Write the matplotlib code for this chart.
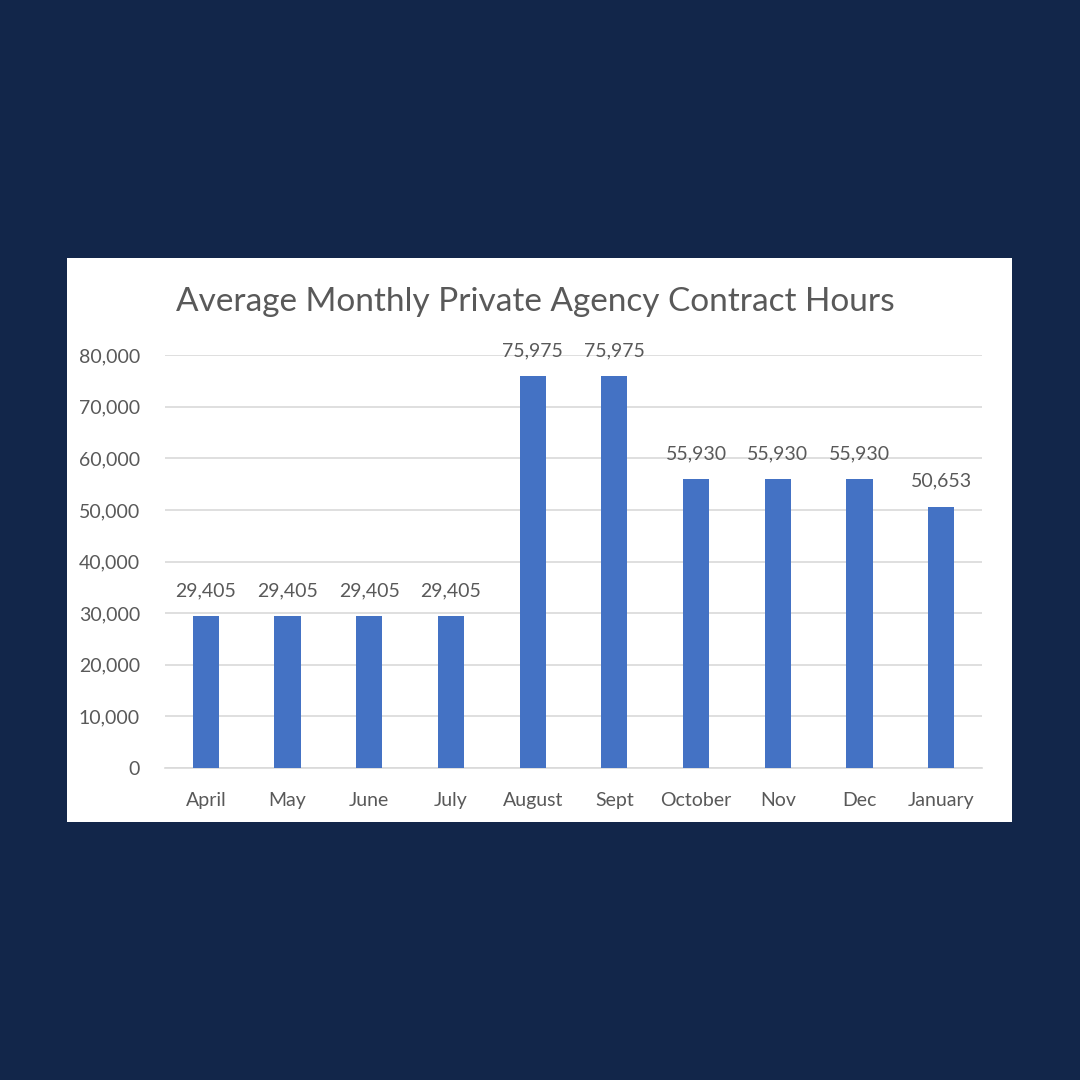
import matplotlib
matplotlib.use("Agg")
import matplotlib.pyplot as plt
from matplotlib.ticker import FuncFormatter

months = ["April", "May", "June", "July", "August", "Sept", "October", "Nov", "Dec", "January"]
hours = [29405, 29405, 29405, 29405, 75975, 75975, 55930, 55930, 55930, 50653]
yticks = [0, 10000, 20000, 30000, 40000, 50000, 60000, 70000, 80000]

plt.rcParams['font.family'] = ['Lato', 'DejaVu Sans']
txt = '#595959'

fig = plt.figure(figsize=(10.8, 10.8), dpi=100)
fig.patch.set_facecolor('#12264A')
W = H = 1080.0

panel = fig.add_axes([67 / W, 1 - 822 / H, 945 / W, 564 / H], zorder=0)
panel.set_facecolor('white')
panel.set_xticks([])
panel.set_yticks([])
for s in panel.spines.values():
    s.set_visible(False)

ax = fig.add_axes([165 / W, 1 - 768 / H, (982 - 165) / W, (768 - 355) / H], zorder=1)
ax.set_facecolor('none')
x = list(range(len(months)))
bars = ax.bar(x, hours, width=0.32, color='#4472C4', zorder=3)
ax.set_xlim(-0.5, len(months) - 0.5)
ax.set_ylim(0, 80000)
ax.set_yticks(yticks)
ax.yaxis.set_major_formatter(FuncFormatter(lambda v, p: f"{int(v):,}"))
ax.grid(axis='y', color='#D9D9D9', linewidth=1.2, zorder=0)
ax.set_axisbelow(True)
ax.set_xticks(x)
ax.set_xticklabels(months)
for s in ['top', 'left', 'right']:
    ax.spines[s].set_visible(False)
ax.spines['bottom'].set_color('#D9D9D9')
ax.spines['bottom'].set_linewidth(1.2)
ax.tick_params(axis='both', length=0, labelsize=14, colors=txt)
ax.tick_params(axis='y', pad=18)
ax.tick_params(axis='x', pad=17)

for b, v in zip(bars, hours):
    ax.annotate(f"{v:,}", (b.get_x() + b.get_width() / 2, v), xytext=(0, 12),
                textcoords='offset points', ha='center', va='bottom',
                fontsize=14, color=txt, annotation_clip=False)

fig.text(535 / W, 1 - 302 / H, "Average Monthly Private Agency Contract Hours",
         ha='center', va='center', fontsize=24, color=txt)

fig.savefig("out.png", dpi=100, facecolor=fig.get_facecolor())
